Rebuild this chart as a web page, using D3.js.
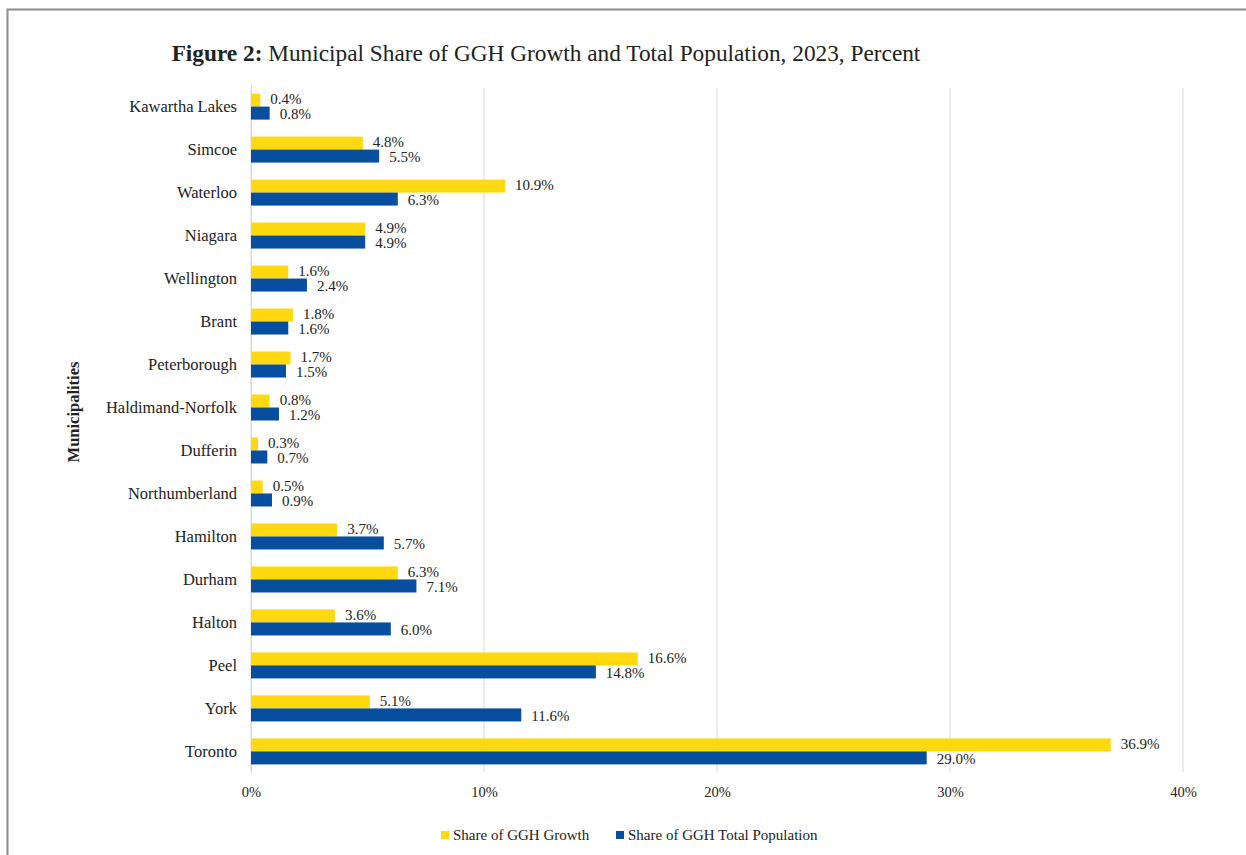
<!DOCTYPE html>
<html lang="en">
<head>
<meta charset="UTF-8"/>
<title>Figure 2: Municipal Share of GGH Growth and Total Population</title>
<script src="https://d3js.org/d3.v7.min.js"></script>
<style>
  body { margin: 0; background: #fff; }
  text { font-family: "Liberation Serif", "Times New Roman", serif; fill: #222; }
</style>
</head>
<body>
<script>
    // categories, top to bottom
    var municipalities = ["Kawartha Lakes", "Simcoe", "Waterloo", "Niagara", "Wellington", "Brant",
        "Peterborough", "Haldimand-Norfolk", "Dufferin", "Northumberland", "Hamilton", "Durham",
        "Halton", "Peel", "York", "Toronto"];
    var growthShare = [0.4, 4.8, 10.9, 4.9, 1.6, 1.8, 1.7, 0.8, 0.3, 0.5, 3.7, 6.3, 3.6, 16.6, 5.1, 36.9];
    var populationShare = [0.8, 5.5, 6.3, 4.9, 2.4, 1.6, 1.5, 1.2, 0.7, 0.9, 5.7, 7.1, 6.0, 14.8, 11.6, 29.0];
    var seriesNames = ["Share of GGH Growth", "Share of GGH Total Population"];
    var xTicks = [0, 10, 20, 30, 40];

    var w = 1246, h = 855;
    var colors = ["#FFD90F", "#084E9E"];

    var svg = d3.select("body").append("svg")
        .attr("width", w)
        .attr("height", h);

    // outer frame
    svg.append("rect")
        .attr("x", 7.5).attr("y", 9.5)
        .attr("width", w + 20).attr("height", h + 20)
        .attr("fill", "none")
        .attr("stroke", "#8c8c8c")
        .attr("stroke-width", 2);

    var xScale = d3.scaleLinear().domain([0, 40]).range([251, 1183]);
    var yScale = d3.scaleBand().domain(municipalities).range([85, 773]).paddingInner(0.395).paddingOuter(0.2);
    var sub = d3.scaleBand().domain([0, 1]).range([0, yScale.bandwidth()]);

    // gridlines
    svg.selectAll("line.grid")
        .data(xTicks)
        .enter()
        .append("line")
        .attr("class", "grid")
        .attr("x1", function(d) { return xScale(d); })
        .attr("x2", function(d) { return xScale(d); })
        .attr("y1", 88)
        .attr("y2", 772)
        .attr("stroke", "#d9d9d9")
        .attr("stroke-width", 1);

    // x axis labels
    var xAxis = d3.axisBottom(xScale)
        .tickValues(xTicks)
        .tickSize(0)
        .tickFormat(function(d) { return d + "%"; });
    var gx = svg.append("g")
        .attr("transform", "translate(0," + 784 + ")")
        .call(xAxis);
    gx.select(".domain").remove();
    gx.selectAll("text").attr("font-size", "14.5px").attr("fill", "#333")
        .style("font-family", "Liberation Serif, serif");

    // y axis labels
    var yAxis = d3.axisLeft(yScale).tickSize(0).tickPadding(14);
    var gy = svg.append("g")
        .attr("transform", "translate(" + 251 + ",0)")
        .call(yAxis);
    gy.select(".domain").attr("stroke", "#d9d9d9");
    gy.selectAll("text").attr("font-size", "16.5px").attr("fill", "#222")
        .style("font-family", "Liberation Serif, serif");

    // bars
    var rows = municipalities.map(function(m, i) {
        return { name: m, values: [growthShare[i], populationShare[i]] };
    });
    var groups = svg.selectAll("g.row")
        .data(rows)
        .enter()
        .append("g")
        .attr("class", "row")
        .attr("transform", function(d) { return "translate(0," + yScale(d.name) + ")"; });

    groups.selectAll("rect")
        .data(function(d) { return d.values.map(function(v, k) { return { v: v, k: k }; }); })
        .enter()
        .append("rect")
        .attr("x", xScale(0))
        .attr("y", function(d) { return sub(d.k); })
        .attr("width", function(d) { return xScale(d.v) - xScale(0); })
        .attr("height", sub.bandwidth())
        .attr("fill", function(d) { return colors[d.k]; });

    // value labels, nudged apart a little
    groups.selectAll("text.val")
        .data(function(d) { return d.values.map(function(v, k) { return { v: v, k: k }; }); })
        .enter()
        .append("text")
        .attr("class", "val")
        .attr("x", function(d) { return xScale(d.v) + 10; })
        .attr("y", function(d) { return sub(d.k) + sub.bandwidth() / 2 + (d.k === 0 ? -1 : 1); })
        .attr("dy", "0.35em")
        .attr("font-size", "15px")
        .text(function(d) { return d.v.toFixed(1) + "%"; });

    // title
    var title = svg.append("text")
        .attr("x", 546)
        .attr("y", 61)
        .attr("text-anchor", "middle")
        .attr("font-size", "23.3px")
        .attr("fill", "#111");
    title.append("tspan").attr("font-weight", "bold").text("Figure 2:");
    title.append("tspan").text(" Municipal Share of GGH Growth and Total Population, 2023, Percent");

    // y axis title
    svg.append("text")
        .attr("transform", "rotate(-90)")
        .attr("x", -412)
        .attr("y", 79)
        .attr("text-anchor", "middle")
        .attr("font-size", "16.5px")
        .attr("font-weight", "bold")
        .text("Municipalities");

    // legend
    var legendX = [441, 616];
    var legend = svg.selectAll("g.legend")
        .data(seriesNames)
        .enter()
        .append("g")
        .attr("class", "legend")
        .attr("transform", function(d, i) { return "translate(" + legendX[i] + ",835)"; });
    legend.append("rect")
        .attr("x", 0).attr("y", -4)
        .attr("width", 8).attr("height", 8)
        .attr("fill", function(d, i) { return colors[i]; });
    legend.append("text")
        .attr("x", 12)
        .attr("dy", "0.35em")
        .attr("font-size", "15px")
        .text(function(d) { return d; });
</script>
</body>
</html>
